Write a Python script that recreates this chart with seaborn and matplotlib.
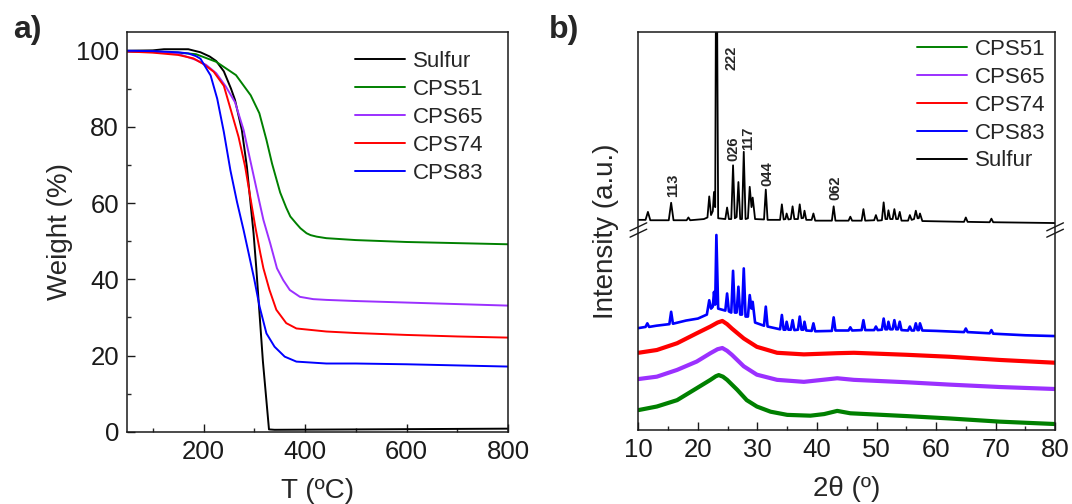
import matplotlib
matplotlib.use("Agg")
import matplotlib.pyplot as plt
from matplotlib.ticker import MultipleLocator
import seaborn as sns
import pandas as pd

# ---------------- TGA data (panel a) ----------------
tga_sulfur_T = [50, 100, 122, 170, 194, 212, 225, 240, 254, 262, 275.5, 285.4, 292, 298.6, 304, 317, 329, 340, 500, 800]
tga_sulfur_W = [100.0, 100.1, 100.4, 100.4, 99.6, 98.5, 97.3, 94.6, 90.1, 87.1, 79.2, 69.6, 60.8, 52.1, 42.9, 18.5, 0.6, 0.5, 0.6, 0.8]

tga_cps51_T = [50, 150, 185, 225, 264, 293, 310, 318, 324, 335, 351, 363, 371, 383, 391, 403, 411, 423, 442, 500, 600, 700, 800]
tga_cps51_W = [99.8, 99.5, 99.1, 97.1, 93.6, 88.3, 83.6, 79.6, 76.6, 70.4, 62.8, 58.8, 56.5, 54.6, 53.4, 52.1, 51.6, 51.2, 50.8, 50.3, 49.8, 49.5, 49.2]

tga_cps65_T = [50, 100, 150, 185, 205, 225, 244, 262, 279, 292, 305, 318, 331.5, 344.7, 357, 370, 390, 416, 442, 500, 600, 700, 800]
tga_cps65_W = [99.8, 99.8, 99.2, 97.6, 96.3, 94.1, 90.6, 86.5, 79.2, 71.3, 63.4, 55.6, 49.4, 42.9, 39.8, 37.2, 35.4, 34.8, 34.6, 34.3, 33.9, 33.5, 33.1]

tga_cps74_T = [50, 100, 150, 180, 200, 220, 240, 252, 269, 282, 292, 302, 312, 318, 330, 343.5, 363, 383, 442, 500, 600, 700, 800]
tga_cps74_W = [99.8, 99.5, 98.9, 98.0, 96.5, 94.5, 90.8, 85.3, 77.4, 69.6, 61.7, 53.8, 46.8, 42.9, 37.2, 32.0, 28.5, 27.1, 26.3, 25.9, 25.4, 25.0, 24.7]

tga_cps83_T = [50, 100, 150, 170, 185, 194, 214, 227, 240, 253, 266, 279, 289, 300, 310.5, 324, 340, 360, 383, 442, 500, 600, 700, 800]
tga_cps83_W = [100.0, 99.9, 99.6, 99.3, 98.6, 97.9, 93.5, 87.4, 78.7, 68.6, 60.3, 52.9, 46.8, 40.0, 32.8, 25.8, 22.3, 19.7, 18.4, 17.9, 17.9, 17.7, 17.4, 17.1]

# ---------------- XRD data (panel b), offset-stacked, arbitrary units ----------------
xrd_sulfur_x = [10.0, 11.2, 11.6, 12.0, 15.1, 15.5, 15.9, 18.1, 18.4, 18.7,
                21.0, 21.6, 21.9, 22.2, 22.5, 22.7, 22.9, 23.1, 23.4, 24.6, 24.9, 25.2,
                25.6, 25.9, 26.2, 26.5, 26.8, 27.1, 27.4, 27.7, 28.0, 28.4, 28.7, 29.0,
                29.2, 29.6, 31.1, 31.4, 31.7, 33.8, 34.1, 34.4, 34.7, 34.9, 35.2, 35.6,
                35.9, 36.2, 36.8, 37.1, 37.4, 37.7, 37.9, 38.2, 39.1, 39.4, 39.7, 42.5,
                42.8, 43.1, 45.3, 45.6, 45.9, 47.5, 47.8, 48.1, 49.6, 49.9, 50.2, 50.9,
                51.2, 51.5, 51.8, 52.0, 52.3, 52.7, 53.0, 53.3, 53.6, 53.9, 54.2, 55.3,
                55.6, 55.9, 56.3, 56.6, 56.9, 57.1, 57.3, 57.7, 64.7, 65.0, 65.3, 69.0,
                69.3, 69.6, 80.0]
xrd_sulfur_y = [52.8, 52.8, 54.8, 52.7, 52.7, 57.1, 52.7, 52.7, 53.4, 52.7,
                53.0, 53.4, 58.7, 54.0, 55.0, 59.8, 56.0, 140.0, 53.2, 53.0, 55.9, 53.0,
                53.0, 66.5, 53.2, 53.5, 62.3, 53.0, 53.0, 69.9, 53.0, 53.2, 61.1, 56.0,
                58.4, 53.0, 52.9, 60.4, 52.8, 52.8, 56.7, 52.9, 53.0, 54.4, 52.9, 53.0,
                56.2, 53.0, 53.0, 56.7, 53.2, 53.3, 55.1, 52.8, 52.8, 54.4, 52.6, 52.6,
                56.2, 52.6, 52.6, 53.6, 52.6, 52.6, 55.5, 52.6, 52.7, 54.0, 52.6, 52.7,
                57.2, 53.0, 53.0, 55.2, 53.0, 53.0, 55.5, 53.0, 53.0, 54.8, 52.6, 52.6,
                54.0, 52.8, 53.0, 55.1, 53.2, 53.2, 54.4, 52.5, 52.3, 53.4, 52.3, 52.2,
                53.1, 52.2, 52.0]

xrd_cps83_x = [10.0, 11.2, 11.5, 11.8, 13.0, 15.2, 15.5, 15.8, 18.0, 20.0,
               21.5, 21.9, 22.2, 22.5, 22.7, 22.9, 23.1, 23.4, 24.6, 24.9, 25.2,
               25.6, 25.9, 26.2, 26.5, 26.8, 27.1, 27.4, 27.7, 28.0, 28.4, 28.7, 29.0,
               29.2, 29.6, 31.1, 31.4, 31.7, 33.8, 34.1, 34.4, 34.7, 34.9, 35.2, 35.6,
               35.9, 36.2, 36.8, 37.1, 37.4, 37.7, 37.9, 38.2, 39.1, 39.4, 39.7, 42.5,
               42.8, 43.1, 45.3, 45.6, 45.9, 47.5, 47.8, 48.1, 49.6, 49.9, 50.2, 50.9,
               51.2, 51.5, 51.8, 52.0, 52.3, 52.7, 53.0, 53.3, 53.6, 53.9, 54.2, 55.3,
               55.6, 55.9, 56.3, 56.6, 56.9, 57.1, 57.3, 57.7, 60.0, 64.7, 65.0, 65.3,
               69.0, 69.3, 69.6, 75.0, 80.0]
xrd_cps83_y = [25.6, 25.9, 26.8, 25.9, 26.2, 26.6, 29.7, 26.7, 27.5, 28.0,
               29.0, 32.6, 30.5, 31.0, 34.7, 31.5, 49.0, 30.5, 30.0, 34.3, 29.8,
               29.5, 40.0, 29.5, 29.5, 36.0, 29.0, 29.0, 40.6, 28.5, 28.5, 33.9, 30.5,
               32.2, 27.0, 26.2, 31.0, 26.0, 25.3, 28.9, 25.2, 25.2, 27.2, 25.2, 25.2,
               27.6, 25.1, 25.2, 28.5, 25.2, 25.2, 27.2, 25.0, 24.9, 26.8, 24.8, 24.9,
               28.3, 25.0, 25.0, 25.8, 25.0, 25.1, 27.6, 25.1, 25.1, 26.0, 25.1, 25.2,
               28.0, 25.3, 25.3, 27.2, 25.3, 25.3, 27.6, 25.3, 25.3, 27.2, 25.1, 25.0,
               26.0, 25.0, 25.0, 26.8, 25.1, 25.1, 26.8, 25.0, 24.9, 24.6, 25.5, 24.6,
               24.3, 25.1, 24.2, 23.8, 23.6]

xrd_cps74_x = [10, 13.1, 16.5, 19.8, 22.1, 23.3, 24.1, 24.9, 25.7, 27.7, 29.9, 33.3, 37.8, 43.4, 46.2, 55, 62.3, 70.7, 80]
xrd_cps74_y = [19.4, 20.1, 21.8, 24.3, 26.0, 27.0, 27.4, 26.6, 25.5, 23.0, 20.9, 19.4, 19.0, 19.3, 19.4, 18.9, 18.4, 17.6, 16.9]

xrd_cps65_x = [10, 13.1, 16.5, 19.8, 22.1, 23.3, 24.1, 24.9, 25.7, 27.7, 29.9, 33.3, 37.8, 43.4, 46.2, 55, 62.3, 70.7, 80]
xrd_cps65_y = [12.8, 13.4, 15.1, 17.2, 19.3, 20.3, 20.6, 19.9, 18.9, 16.0, 13.9, 12.6, 12.1, 13.0, 12.6, 12.0, 11.4, 10.8, 10.3]

xrd_cps51_x = [10, 13.1, 16.5, 19.8, 22.1, 23.0, 23.5, 24.2, 24.9, 26.6, 28.2, 29.9, 32.2, 35.0, 38.9, 41.2, 43.4, 45.6, 55, 62.3, 70.7, 80]
xrd_cps51_y = [5.0, 5.9, 7.5, 10.5, 12.6, 13.5, 13.8, 13.4, 12.6, 10.1, 7.5, 5.9, 4.6, 3.8, 3.6, 4.0, 4.8, 4.2, 3.5, 2.9, 2.1, 1.5]

peak_labels = ["113", "222", "026", "117", "044", "062"]
peak_label_x = [15.8, 25.7, 25.9, 28.5, 31.6, 43.1]
peak_label_y = [61.4, 93.4, 70.6, 73.3, 64.5, 60.8]

tga_names = ["Sulfur", "CPS51", "CPS65", "CPS74", "CPS83"]
xrd_names = ["CPS51", "CPS65", "CPS74", "CPS83", "Sulfur"]
colors = {"Sulfur": "#000000", "CPS51": "#008000", "CPS65": "#9B30FF",
          "CPS74": "#FF0000", "CPS83": "#0000FF"}

# ---------------- build tables ----------------
tga_series = {"Sulfur": (tga_sulfur_T, tga_sulfur_W), "CPS51": (tga_cps51_T, tga_cps51_W),
              "CPS65": (tga_cps65_T, tga_cps65_W), "CPS74": (tga_cps74_T, tga_cps74_W),
              "CPS83": (tga_cps83_T, tga_cps83_W)}
xrd_series = {"CPS51": (xrd_cps51_x, xrd_cps51_y), "CPS65": (xrd_cps65_x, xrd_cps65_y),
              "CPS74": (xrd_cps74_x, xrd_cps74_y), "CPS83": (xrd_cps83_x, xrd_cps83_y),
              "Sulfur": (xrd_sulfur_x, xrd_sulfur_y)}

tga_df = pd.concat([pd.DataFrame({"T": t, "W": w, "sample": n}) for n, (t, w) in tga_series.items()],
                   ignore_index=True)

sns.set_theme(style="ticks")
plt.rcParams["font.family"] = ["Liberation Sans", "DejaVu Sans"]

W_PX, H_PX = 1072, 504
fig = plt.figure(figsize=(W_PX / 100, H_PX / 100), dpi=100)


def px_axes(left, right, top, bottom):
    return fig.add_axes([left / W_PX, 1 - bottom / H_PX, (right - left) / W_PX, (bottom - top) / H_PX])


axA = px_axes(127.4, 508.0, 31.7, 431.7)
axB = px_axes(638.4, 1055.1, 32.0, 430.0)

# ---- panel a ----
sns.lineplot(data=tga_df, x="T", y="W", hue="sample", hue_order=tga_names,
             palette=colors, estimator=None, sort=False, linewidth=1.4, ax=axA)
axA.set_xlim(50, 800)
axA.set_ylim(0, 105)
axA.xaxis.set_major_locator(MultipleLocator(200))
axA.xaxis.set_minor_locator(MultipleLocator(100))
axA.yaxis.set_major_locator(MultipleLocator(20))
axA.yaxis.set_minor_locator(MultipleLocator(10))
axA.set_xlabel("T (ºC)", fontsize=20, labelpad=10)
axA.set_ylabel("Weight (%)", fontsize=20, labelpad=2)
axA.tick_params(which="both", direction="in", labelsize=18.5, width=1, pad=6)
axA.tick_params(which="major", length=6)
axA.tick_params(which="minor", length=3)
leg = axA.legend(loc="upper left", frameon=False, fontsize=16, handlelength=2.25,
                 labelspacing=0.31, borderaxespad=0.0, handletextpad=0.36,
                 bbox_to_anchor=(0.574, 0.974))
for l in leg.get_lines():
    l.set_linewidth(1.4)

# ---- panel b ----
for n in xrd_names:
    x, y = xrd_series[n]
    lw = 1.3 if n == "Sulfur" else (1.9 if n == "CPS83" else 3.0)
    sns.lineplot(x=x, y=y, color=colors[n], linewidth=lw, estimator=None, sort=False,
                 label=n, ax=axB)
for txt, px, py in zip(peak_labels, peak_label_x, peak_label_y):
    axB.text(px, py, txt, rotation=90, fontsize=10.5, fontweight="bold",
             ha="center", va="center")
axB.set_xlim(10, 80)
axB.set_ylim(0, 100)
axB.xaxis.set_major_locator(MultipleLocator(10))
axB.xaxis.set_minor_locator(MultipleLocator(5))
axB.set_yticks([])
axB.set_xlabel("2θ (º)", fontsize=20, labelpad=10)
axB.set_ylabel("Intensity (a.u.)", fontsize=20, labelpad=14)
axB.tick_params(which="both", direction="in", labelsize=18.5, width=1, pad=6)
axB.tick_params(which="major", length=6)
axB.tick_params(which="minor", length=3)
leg2 = axB.legend(loc="upper left", frameon=False, fontsize=16, handlelength=2.25,
                  labelspacing=0.31, borderaxespad=0.0, handletextpad=0.36,
                  bbox_to_anchor=(0.6465, 1.005))
for l in leg2.get_lines():
    l.set_linewidth(1.4)

# axis break marks on both spines
yb = 0.5025
for xs in (0.0, 1.0):
    for off in (-0.008, 0.008):
        axB.plot([xs - 0.02, xs + 0.02], [yb + off - 0.01, yb + off + 0.01],
                 transform=axB.transAxes, color="k", lw=1, clip_on=False)

for ax in (axA, axB):
    for s in ax.spines.values():
        s.set_linewidth(1.1)
        s.set_color("k")
    ax.tick_params(colors="k")

fig.text(13 / W_PX, 1 - 30 / H_PX, "a)", fontsize=23, fontweight="bold", va="center")
fig.text(549 / W_PX, 1 - 30 / H_PX, "b)", fontsize=23, fontweight="bold", va="center")

fig.savefig("out.png", dpi=100)
